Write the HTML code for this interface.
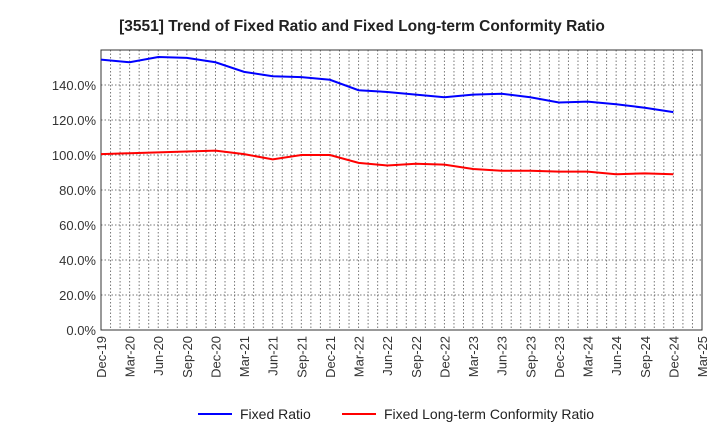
<!DOCTYPE html>
<html><head><meta charset="utf-8"><style>
body{margin:0;background:#fff;font-family:"Liberation Sans",sans-serif;}
</style></head><body>
<svg id="chart" width="720" height="440" xmlns="http://www.w3.org/2000/svg">
<text x="362" y="31" text-anchor="middle" font-size="15.5" font-weight="bold" fill="#222">[3551]  Trend of Fixed Ratio and Fixed Long-term Conformity Ratio</text>
<g id="grid"></g><g id="axes"></g><g id="series"></g>
<g>
<line x1="198" y1="414" x2="232" y2="414" stroke="#0000ff" stroke-width="2"/>
<text x="240" y="419" font-size="14" fill="#222">Fixed Ratio</text>
<line x1="342" y1="414" x2="376" y2="414" stroke="#ff0000" stroke-width="2"/>
<text x="384" y="419" font-size="14" fill="#222">Fixed Long-term Conformity Ratio</text>
</g>
</svg>
<script>
const xLabels=["Dec-19","Mar-20","Jun-20","Sep-20","Dec-20","Mar-21","Jun-21","Sep-21","Dec-21","Mar-22","Jun-22","Sep-22","Dec-22","Mar-23","Jun-23","Sep-23","Dec-23","Mar-24","Jun-24","Sep-24","Dec-24","Mar-25"];
const yTicks=[0,20,40,60,80,100,120,140];
const fixedRatio=[154.5,153,156,155.5,153,147.5,145,144.5,143,137,136,134.5,133,134.5,135,133,130,130.5,129,127,124.5];
const fixedLongTerm=[100.5,101,101.5,102,102.5,100.5,97.5,100,100,95.5,94,95,94.5,92,91,91,90.5,90.5,89,89.5,89];
const L=101,R=702,T=50,B=330,yMax=160;
const xs=i=>L+(R-L)*i/(xLabels.length-1);
const ys=v=>B-(B-T)*v/yMax;
const NS="http://www.w3.org/2000/svg";
function mk(tag,attrs,parent){const e=document.createElementNS(NS,tag);for(const k in attrs)e.setAttribute(k,attrs[k]);parent.appendChild(e);return e;}
const grid=document.getElementById('grid'),axes=document.getElementById('axes'),series=document.getElementById('series');
for(let m=1;m<(xLabels.length-1)*3;m++){const x=L+(R-L)*m/((xLabels.length-1)*3);
const l=mk('line',{x1:x,x2:x,y1:T,y2:B,stroke:'#777','stroke-dasharray':'1.5,2','stroke-width':1},grid);

}
yTicks.concat([160]).forEach(v=>{const y=ys(v);
const l=mk('line',{x1:L,x2:R,y1:y,y2:y,stroke:'#777','stroke-dasharray':'1.5,2','stroke-width':1},grid);

});
yTicks.forEach(v=>{const t=mk('text',{x:L-5,y:ys(v)+5,'text-anchor':'end','font-size':13,fill:'#333'},axes);t.textContent=v.toFixed(1)+'%';

});
xLabels.forEach((s,i)=>{const x=xs(i);const t=mk('text',{x:x+5,y:B+6,'text-anchor':'end','font-size':13,fill:'#333',transform:`rotate(-90 ${x+5} ${B+6})`},axes);t.textContent=s;

});
const box=mk('rect',{x:L,y:T,width:R-L,height:B-T,fill:'none',stroke:'#333','stroke-width':1},axes);


function line(d,c,n){const p=mk('polyline',{points:d.map((v,i)=>xs(i)+','+ys(v)).join(' '),fill:'none',stroke:c,'stroke-width':2},series);

}
line(fixedRatio,'#0000ff','fixed-ratio-line');
line(fixedLongTerm,'#ff0000','fixed-long-term-line');
</script>
</body></html>
